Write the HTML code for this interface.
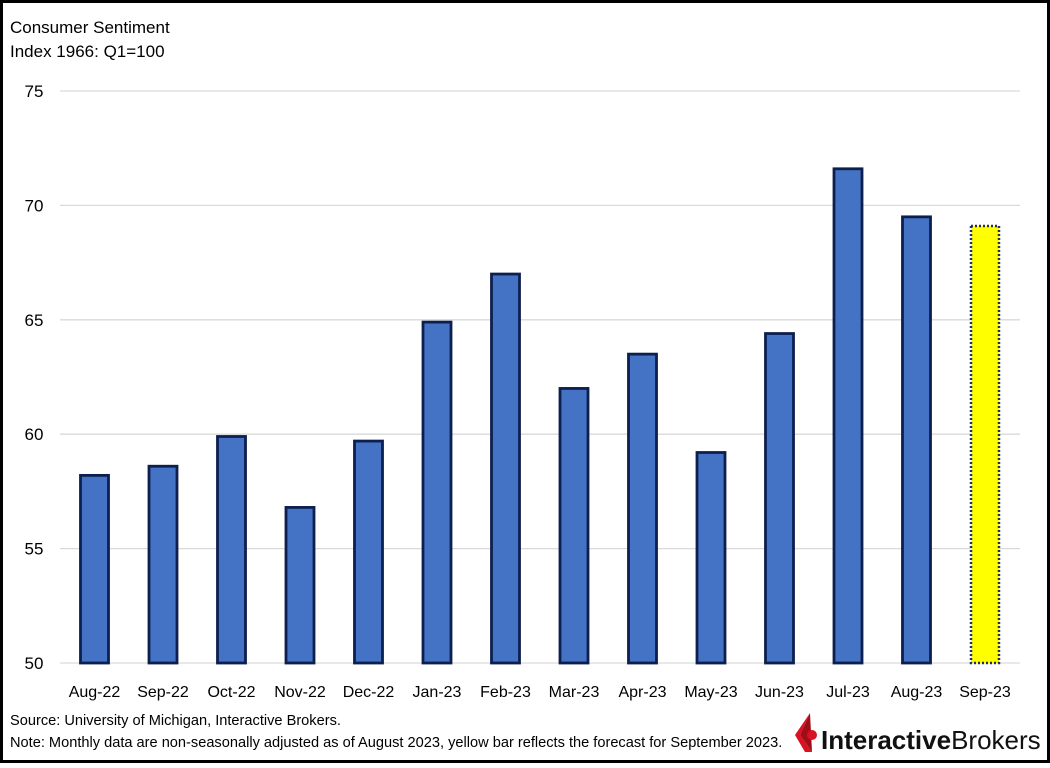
<!DOCTYPE html>
<html><head><meta charset="utf-8"><style>
html,body{margin:0;padding:0;background:#fff}
body{width:1050px;height:763px;overflow:hidden;font-family:"Liberation Sans",Arial,sans-serif}
</style></head><body>
<svg id="chart" width="1050" height="763" xmlns="http://www.w3.org/2000/svg">
<rect x="1.5" y="1.5" width="1047" height="760" fill="#fff" stroke="#000" stroke-width="3"/>
<text x="10" y="33" font-size="17" fill="#000">Consumer Sentiment</text>
<text x="10" y="57" font-size="17" fill="#000">Index 1966: Q1=100</text>
<g id="grid"></g><g id="bars"></g><g id="xlabels"></g>
<text x="10" y="725" font-size="14.6" fill="#000">Source: University of Michigan, Interactive Brokers.</text>
<text x="10" y="747" font-size="14.6" fill="#000">Note: Monthly data are non-seasonally adjusted as of August 2023, yellow bar reflects the forecast for September 2023.</text>
<g>
<polygon points="810,713 800,735 812,752 805,752 795,735" fill="#d81222"/>
<polygon points="810,713 812,752 800,735" fill="#a00d18"/>
<circle cx="812" cy="735" r="5" fill="#d81222"/>
<text x="821" y="749" font-size="26" fill="#111"><tspan font-weight="bold">Interactive</tspan>Brokers</text>
</g>
</svg>
<script>
const categories=["Aug-22","Sep-22","Oct-22","Nov-22","Dec-22","Jan-23","Feb-23","Mar-23","Apr-23","May-23","Jun-23","Jul-23","Aug-23","Sep-23"];
const values=[58.2,58.6,59.9,56.8,59.7,64.9,67.0,62.0,63.5,59.2,64.4,71.6,69.5,69.1];
const forecast=[false,false,false,false,false,false,false,false,false,false,false,false,false,true];
const yTicks=[50,55,60,65,70,75];
const NS="http://www.w3.org/2000/svg";
const y=v=>663-(v-50)*(663-91)/25;
const x=i=>94.5+i*68.5;
const grid=document.getElementById('grid'),bars=document.getElementById('bars'),xl=document.getElementById('xlabels');
yTicks.forEach(t=>{
 const l=document.createElementNS(NS,'line');
 l.setAttribute('x1',60);l.setAttribute('x2',1020);l.setAttribute('y1',y(t));l.setAttribute('y2',y(t));
 l.setAttribute('stroke','#d9d9d9');l.setAttribute('stroke-width','1.3');
 
 
 grid.appendChild(l);
 const tx=document.createElementNS(NS,'text');
 tx.setAttribute('x',34);tx.setAttribute('y',y(t)+6);tx.setAttribute('font-size','17');tx.setAttribute('text-anchor','middle');
 tx.textContent=t;
 
 
 grid.appendChild(tx);
});
categories.forEach((c,i)=>{
 const r=document.createElementNS(NS,'rect');
 const w=28;
 r.setAttribute('x',x(i)-w/2);r.setAttribute('width',w);
 r.setAttribute('y',y(values[i]));r.setAttribute('height',y(50)-y(values[i]));
 if(forecast[i]){r.setAttribute('fill','#ffff00');r.setAttribute('stroke','#1f2d6b');r.setAttribute('stroke-width','2.5');r.setAttribute('stroke-dasharray','2 2');}
 else{r.setAttribute('fill','#4472c4');r.setAttribute('stroke','#0d1f4f');r.setAttribute('stroke-width','2.8');}
 
 
 bars.appendChild(r);
 const t=document.createElementNS(NS,'text');
 t.setAttribute('x',x(i));t.setAttribute('y',697);t.setAttribute('font-size','16');t.setAttribute('text-anchor','middle');
 t.textContent=c;
 
 
 xl.appendChild(t);
});
</script>
</body></html>
